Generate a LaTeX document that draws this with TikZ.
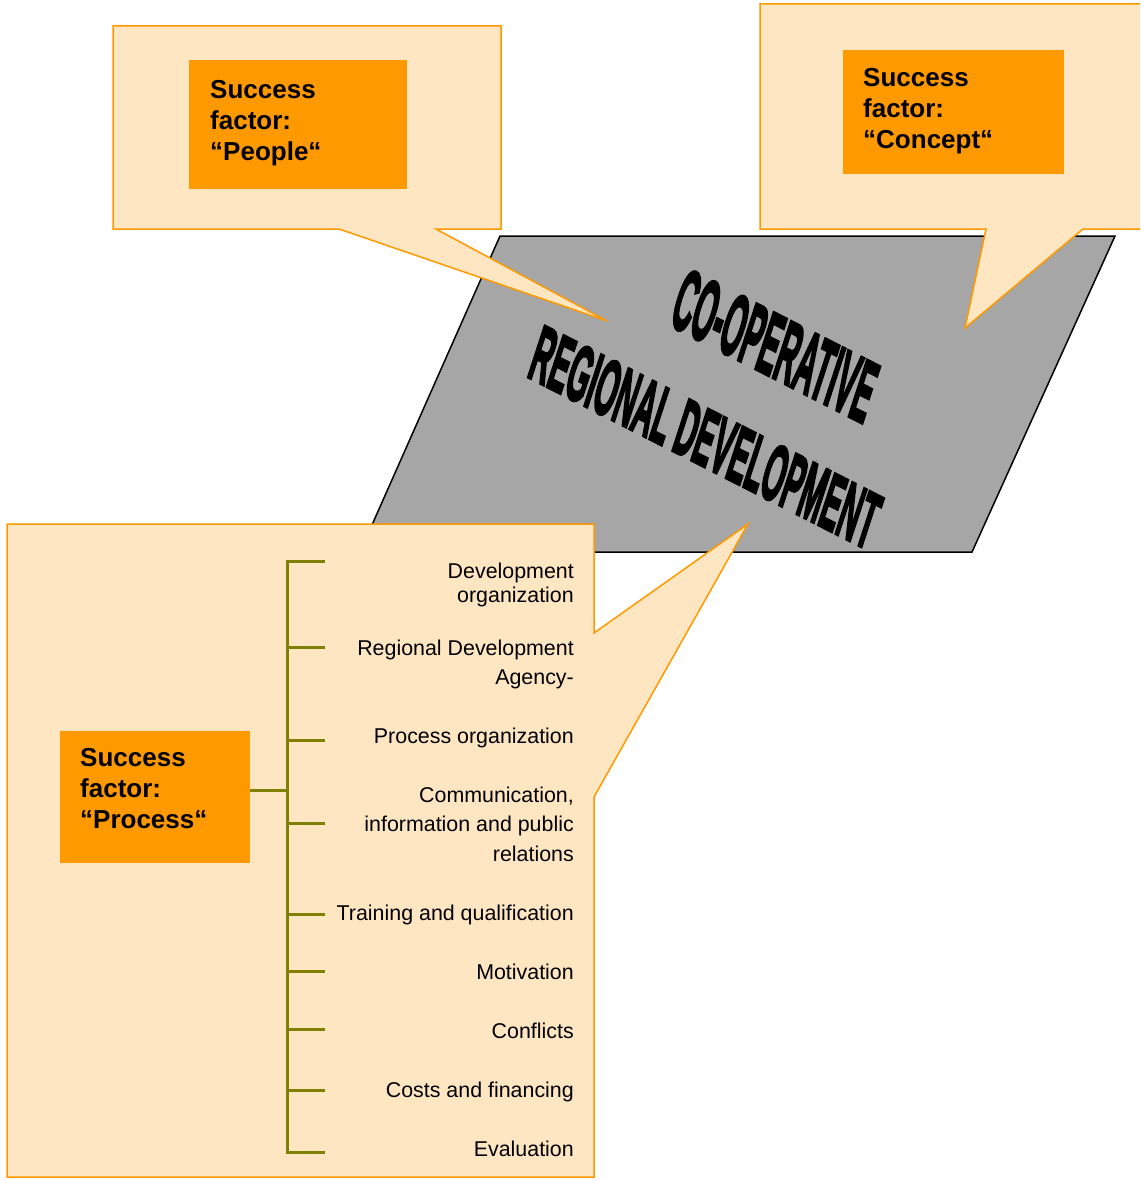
\documentclass[tikz,border=0pt]{standalone}
\usepackage{fontspec}
\setmainfont{Liberation Sans}
\newfontfamily\wordartfont[BoldFeatures={FakeBold=4}]{Liberation Sans}
\definecolor{calloutfill}{HTML}{FFE6C3}
\definecolor{orangeline}{HTML}{FF9900}
\definecolor{boxorange}{HTML}{FF9900}
\definecolor{panelgray}{HTML}{A6A6A6}
\definecolor{treeolive}{HTML}{808000}
\begin{document}
\begin{tikzpicture}[x=1pt,y=-1pt,
  callout/.style={fill=calloutfill, draw=orangeline, line width=1.5pt, line join=miter},
  panel/.style={fill=panelgray, draw=black, line width=1.5pt},
  factorbox/.style={fill=boxorange, draw=none, inner sep=0pt, outer sep=0pt},
  factortext/.style={font=\fontsize{26}{31}\selectfont\bfseries, align=left, inner sep=0pt, anchor=north west},
  itemtext/.style={font=\fontsize{21.4}{29.5}\selectfont, align=right, inner sep=0pt, anchor=north east},
  wordart/.style={font=\fontsize{30}{30}\selectfont\wordartfont\bfseries, inner sep=0pt, anchor=base},
  treeline/.style={draw=treeolive, line width=3pt}]
\useasboundingbox (0,0) rectangle (1140,1180);
\clip (0,0) rectangle (1140,1180);
\fill[white] (0,0) rectangle (1140,1180);

% central panel
\draw[panel] (500,236) -- (1115,236) -- (972,552) -- (360,552) -- cycle;
\node (coop) [wordart, rotate=-18, yslant=-0.158, xscale=0.96, yscale=2.85] at (766,374) {CO-OPERATIVE};
\node (regdev) [wordart, rotate=-18, yslant=-0.158, xscale=0.96, yscale=2.6] at (697,463) {REGIONAL DEVELOPMENT};

% callouts
\draw[callout] (113,26) -- (501,26) -- (501,229) -- (436,229) -- (607,321) -- (339,229) -- (113,229) -- cycle;
\draw[callout] (760,4) -- (1150,4) -- (1150,229) -- (1083,229) -- (965,328) -- (986,229) -- (760,229) -- cycle;
\draw[callout] (7,524) -- (594,524) -- (594,633) -- (748,524) -- (594,797) -- (594,1177) -- (7,1177) -- cycle;

% success factor boxes
\node (peoplebox) [factorbox, minimum width=218pt, minimum height=129pt] at (298,124.5) {};
\node (peopletext) [factortext] at (210,80) {Success\\factor:\\“People“};
\node (conceptbox) [factorbox, minimum width=221pt, minimum height=124pt] at (953.5,112) {};
\node (concepttext) [factortext] at (863,68) {Success\\factor:\\“Concept“};
\node (processbox) [factorbox, minimum width=190pt, minimum height=132pt] at (155,797) {};
\node (processtext) [factortext] at (80,748) {Success\\factor:\\“Process“};

% tree
\coordinate (hub) at (287,790);
\foreach \i/\yy in {1/561,2/647,3/740,4/823,5/914,6/971,7/1029,8/1090,9/1152}{
  \coordinate (t\i) at (287,\yy);
  \coordinate (b\i) at (325,\yy);
}
\draw[treeline] (processbox.east |- hub) -- (hub);
\draw[treeline] (b1) -- (t1) -- (t9) -- (b9);
\foreach \i in {2,...,8}{ \draw[treeline] (t\i) -- (b\i); }

% item labels
\node (l1) [itemtext] at (574,562.7) {Development\\[-5.5pt]organization};
\node (l2) [itemtext] at (574,639.7) {Regional Development\\Agency-};
\node (l3) [itemtext] at (574,727.7) {Process organization};
\node (l4) [itemtext] at (574,786.7) {Communication,\\information and public\\relations};
\node (l5) [itemtext] at (574,904.7) {Training and qualification};
\node (l6) [itemtext] at (574,963.7) {Motivation};
\node (l7) [itemtext] at (574,1022.7) {Conflicts};
\node (l8) [itemtext] at (574,1081.7) {Costs and financing};
\node (l9) [itemtext] at (574,1140.7) {Evaluation};
\end{tikzpicture}
\end{document}
